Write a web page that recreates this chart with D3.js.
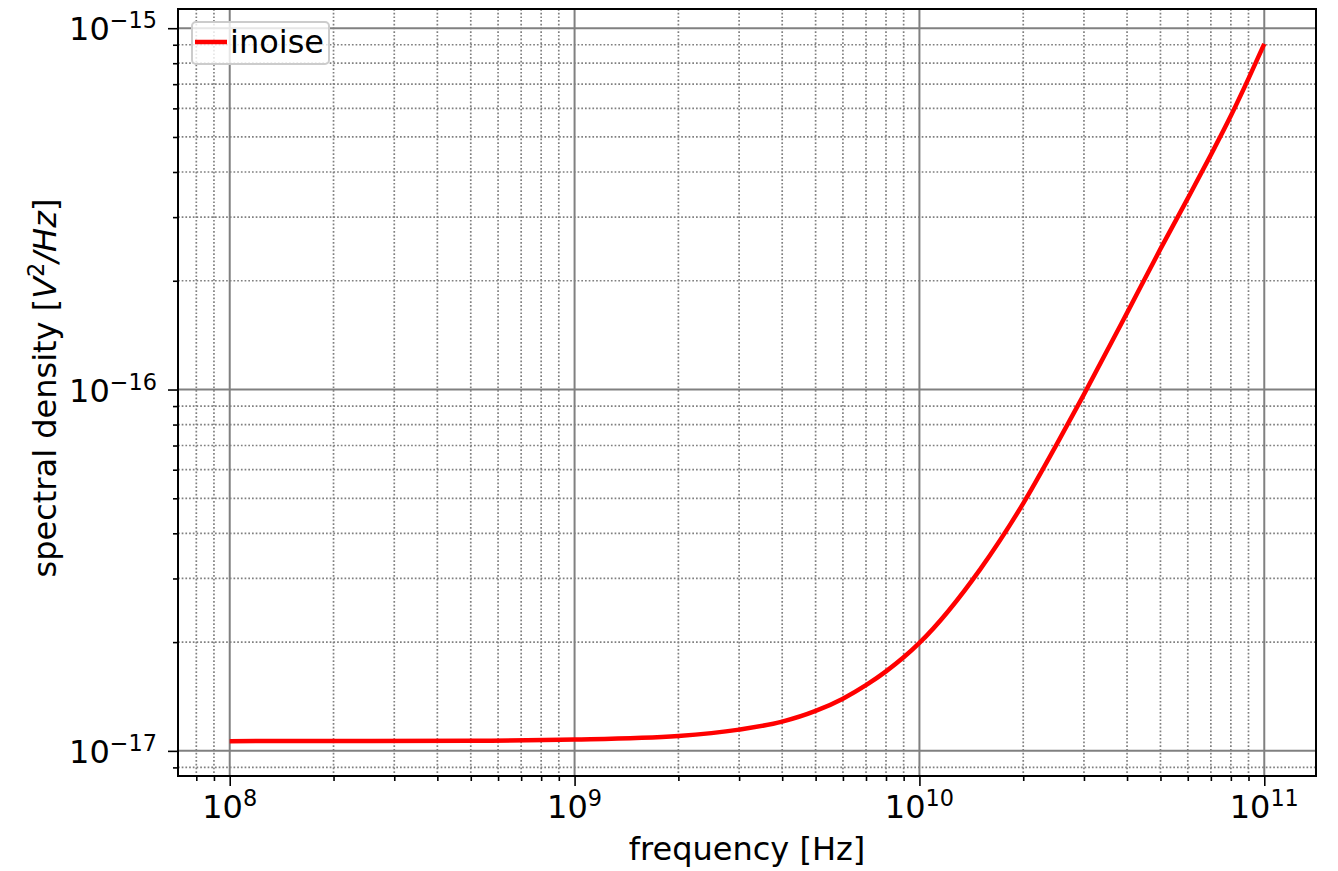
<!DOCTYPE html>
<html>
<head>
<meta charset="utf-8">
<script src="https://cdn.jsdelivr.net/npm/d3@7"></script>
<style>
  body { margin: 0; background: #fff; }
  text { font-family: "DejaVu Sans", sans-serif; fill: #000; }
</style>
</head>
<body>
<svg id="chart" width="1338" height="871"></svg>
<script>
// frequency [Hz] and inoise spectral density [V^2/Hz]
var freq = [1e8, 2e8, 5e8, 1e9, 2e9, 3e9, 4e9, 5e9, 6e9, 7e9, 8e9, 9e9,
            1e10, 1.5e10, 2e10, 2.5e10, 3e10, 4e10, 5e10, 6e10, 7e10, 8e10, 9e10, 1e11];
var inoise = [1.064e-17, 1.065e-17, 1.067e-17, 1.075e-17, 1.1e-17, 1.145e-17, 1.205e-17, 1.29e-17,
              1.395e-17, 1.52e-17, 1.66e-17, 1.815e-17, 1.99e-17, 3.18e-17, 4.84e-17, 7.05e-17,
              9.7e-17, 1.63e-16, 2.45e-16, 3.38e-16, 4.46e-16, 5.72e-16, 7.25e-16, 9.05e-16];
var xMajor = [1e8, 1e9, 1e10, 1e11];
var xMajorExp = ["8", "9", "10", "11"];
var yMajor = [1e-17, 1e-16, 1e-15];
var yMajorExp = ["\u221217", "\u221216", "\u221215"];
var seriesName = "inoise";

var pl = 178, pr = 1316, pt = 9, pb = 776;
var fs = 32;

// matplotlib-style 5% margins in log space
function padLog(ext) {
  var a = Math.log10(ext[0]), b = Math.log10(ext[1]), p = (b - a) * 0.05;
  return [Math.pow(10, a - p), Math.pow(10, b + p)];
}

var x = d3.scaleLog().domain(padLog(d3.extent(freq))).range([pl, pr]);
var y = d3.scaleLog().domain(padLog(d3.extent(inoise))).range([pb, pt]);

function minorTicks(scale) {
  var d = scale.domain(), out = [];
  var lo = Math.floor(Math.log10(d[0])), hi = Math.ceil(Math.log10(d[1]));
  for (var e = lo; e <= hi; e++) {
    for (var m = 2; m <= 9; m++) {
      var v = m * Math.pow(10, e);
      if (v >= d[0] && v <= d[1]) out.push(v);
    }
  }
  return out;
}
var xMinor = minorTicks(x), yMinor = minorTicks(y);

var svg = d3.select("#chart");

// grid
var grid = svg.append("g");
grid.selectAll(".xminor").data(xMinor).enter().append("line")
  .attr("x1", function(d) { return x(d); }).attr("x2", function(d) { return x(d); })
  .attr("y1", pt).attr("y2", pb)
  .attr("stroke", "#808080").attr("stroke-width", 1.7).attr("stroke-dasharray", "1.7,2");
grid.selectAll(".yminor").data(yMinor).enter().append("line")
  .attr("y1", function(d) { return y(d); }).attr("y2", function(d) { return y(d); })
  .attr("x1", pl).attr("x2", pr)
  .attr("stroke", "#808080").attr("stroke-width", 1.7).attr("stroke-dasharray", "1.7,2");
grid.selectAll(".xmajor").data(xMajor).enter().append("line")
  .attr("x1", function(d) { return x(d); }).attr("x2", function(d) { return x(d); })
  .attr("y1", pt).attr("y2", pb)
  .attr("stroke", "#808080").attr("stroke-width", 2);
grid.selectAll(".ymajor").data(yMajor).enter().append("line")
  .attr("y1", function(d) { return y(d); }).attr("y2", function(d) { return y(d); })
  .attr("x1", pl).attr("x2", pr)
  .attr("stroke", "#808080").attr("stroke-width", 2);

// curve
var line = d3.line()
  .x(function(d, i) { return x(freq[i]); })
  .y(function(d) { return y(d); })
  .curve(d3.curveMonotoneX);
svg.append("path")
  .datum(inoise)
  .attr("d", line)
  .attr("fill", "none")
  .attr("stroke", "#ff0000")
  .attr("stroke-width", 4.5);

// axes (ticks only, labels added with superscripts)
function styleAxis(g) {
  g.select(".domain").remove();
  g.selectAll(".tick line").attr("stroke", "#000").attr("stroke-width", 1.6);
}
svg.append("g").attr("transform", "translate(0," + pb + ")")
  .call(d3.axisBottom(x).tickValues(xMinor).tickSize(5).tickFormat(""))
  .call(styleAxis);
svg.append("g").attr("transform", "translate(" + pl + ",0)")
  .call(d3.axisLeft(y).tickValues(yMinor).tickSize(5).tickFormat(""))
  .call(styleAxis);
svg.append("g").attr("transform", "translate(0," + pb + ")")
  .call(d3.axisBottom(x).tickValues(xMajor).tickSize(10).tickFormat(""))
  .call(styleAxis);
svg.append("g").attr("transform", "translate(" + pl + ",0)")
  .call(d3.axisLeft(y).tickValues(yMajor).tickSize(10).tickFormat(""))
  .call(styleAxis);

xMajor.forEach(function(v, i) {
  var t = svg.append("text")
    .attr("x", x(v)).attr("y", 818)
    .attr("text-anchor", "middle")
    .style("font-size", fs + "px");
  t.append("tspan").text("10");
  t.append("tspan").attr("dy", -12).style("font-size", (fs * 0.7) + "px").text(xMajorExp[i]);
});
yMajor.forEach(function(v, i) {
  var t = svg.append("text")
    .attr("x", 157).attr("y", y(v) + 12)
    .attr("text-anchor", "end")
    .style("font-size", fs + "px");
  t.append("tspan").text("10");
  t.append("tspan").attr("dy", -12).style("font-size", (fs * 0.7) + "px").text(yMajorExp[i]);
});

// frame
svg.append("rect")
  .attr("x", pl).attr("y", pt)
  .attr("width", pr - pl).attr("height", pb - pt)
  .attr("fill", "none").attr("stroke", "#000").attr("stroke-width", 2);

// axis labels
svg.append("text")
  .attr("x", (pl + pr) / 2).attr("y", 860)
  .attr("text-anchor", "middle")
  .style("font-size", fs + "px")
  .text("frequency [Hz]");

var yl = svg.append("text")
  .attr("transform", "translate(56,388) rotate(-90)")
  .attr("text-anchor", "middle")
  .style("font-size", fs + "px");
yl.append("tspan").text("spectral density [");
yl.append("tspan").style("font-style", "italic").text("V");
yl.append("tspan").attr("dy", -12).style("font-size", (fs * 0.7) + "px").text("2");
yl.append("tspan").attr("dy", 12).style("font-style", "italic").text("/Hz");
yl.append("tspan").text("]");

// legend
var lg = svg.append("g");
lg.append("rect")
  .attr("x", 192).attr("y", 22).attr("width", 137).attr("height", 42)
  .attr("rx", 4).attr("ry", 4)
  .attr("fill", "#fff").attr("fill-opacity", 0.8)
  .attr("stroke", "#cccccc").attr("stroke-width", 2);
lg.append("line")
  .attr("x1", 195).attr("x2", 227).attr("y1", 42).attr("y2", 42)
  .attr("stroke", "#ff0000").attr("stroke-width", 4.5);
lg.append("text")
  .attr("x", 230).attr("y", 53)
  .style("font-size", fs + "px")
  .text(seriesName);
</script>
</body>
</html>
